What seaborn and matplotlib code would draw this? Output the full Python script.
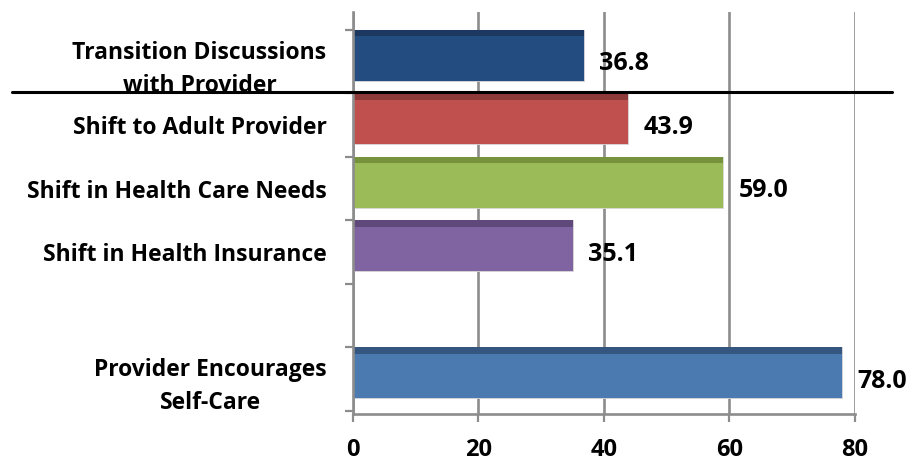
import pandas as pd
import matplotlib.pyplot as plt
import seaborn as sns
from matplotlib.lines import Line2D
from matplotlib.patches import Rectangle

# data
categories = ["Transition Discussions\nwith Provider", "Shift to Adult Provider",
              "Shift in Health Care Needs", "Shift in Health Insurance",
              " ", "Provider Encourages\nSelf-Care"]
values = [36.8, 43.9, 59.0, 35.1, None, 78.0]
bar_colors = ["#234C80", "#C0504D", "#9BBB59", "#8064A2", "#FFFFFF", "#4A7AB0"]
top_colors = ["#1D3860", "#8E3A38", "#76923C", "#5F497A", "#FFFFFF", "#35567F"]
x_ticks = [0, 20, 40, 60, 80]

df = pd.DataFrame({"Category": categories, "Value": values}).dropna()

sns.set_style("white")
plt.rcParams["font.family"] = ["Open Sans", "DejaVu Sans"]
plt.rcParams["font.weight"] = "bold"
plt.rcParams["text.color"] = "black"
plt.rcParams["xtick.labelcolor"] = "black"
plt.rcParams["ytick.labelcolor"] = "black"

fig = plt.figure(figsize=(9.23, 4.62), dpi=100)
ax = fig.add_axes([0.3824, 0.1039, 0.5439, 0.8701])

palette = dict(zip(categories, bar_colors))
sns.barplot(data=df, y="Category", x="Value", hue="Category", order=categories,
            palette=palette, legend=False, width=0.8, saturation=1,
            edgecolor="#d9d9d9", linewidth=0.6, ax=ax)

# darker strip along the top of each bar (Excel bevel look)
tops = dict(zip(bar_colors, top_colors))
for p in list(ax.patches):
    if p.get_width() <= 0:
        continue
    fc = p.get_facecolor()
    hexc = "#%02X%02X%02X" % tuple(int(round(c * 255)) for c in fc[:3])
    strip = Rectangle((p.get_x(), p.get_y()), p.get_width(), p.get_height() * 0.13,
                      facecolor=tops.get(hexc, fc), edgecolor="none", zorder=p.get_zorder() + 0.1)
    ax.add_patch(strip)
    ax.annotate(f"{p.get_width():.1f}", (p.get_width(), p.get_y() + p.get_height() / 2),
                xytext=(11, -6), textcoords="offset points", ha="left", va="center",
                fontsize=18, fontweight="bold", color="black")

n = len(categories)
ax.set_ylim(n - 1 + 0.65, -0.68)
ax.set_xlim(0, 80)
ax.set_xticks(x_ticks)
ax.set_xticklabels([str(t) for t in x_ticks], fontsize=17, fontweight="bold")

# category labels centred between the boundary ticks
ax.set_yticks([i + 0.1 for i in range(n)])
ax.set_yticklabels(categories, fontsize=16.5, fontweight="bold", multialignment="center",
                   linespacing=1.5)
ax.set_yticks([i - 0.4 for i in range(n)] + [n - 1 + 0.6], minor=True)
ax.tick_params(axis="y", which="major", length=0, pad=19)
ax.tick_params(axis="y", which="minor", length=6, width=1.6, color="#8c8c8c", left=True)
ax.tick_params(axis="x", length=6, width=1.6, color="#8c8c8c", pad=11, bottom=True)

ax.set_xlabel("")
ax.set_ylabel("")
ax.grid(axis="x", color="#8c8c8c", linewidth=1.9)
ax.set_axisbelow(True)
for s in ["top", "right"]:
    ax.spines[s].set_visible(False)
for s in ["left", "bottom"]:
    ax.spines[s].set_color("#8c8c8c")
    ax.spines[s].set_linewidth(1.9)

# black separator line across the figure
fig.add_artist(Line2D([0.013, 0.966], [0.800, 0.800], color="black", linewidth=2.2,
                      transform=fig.transFigure))

fig.savefig("out.png", dpi=100)
